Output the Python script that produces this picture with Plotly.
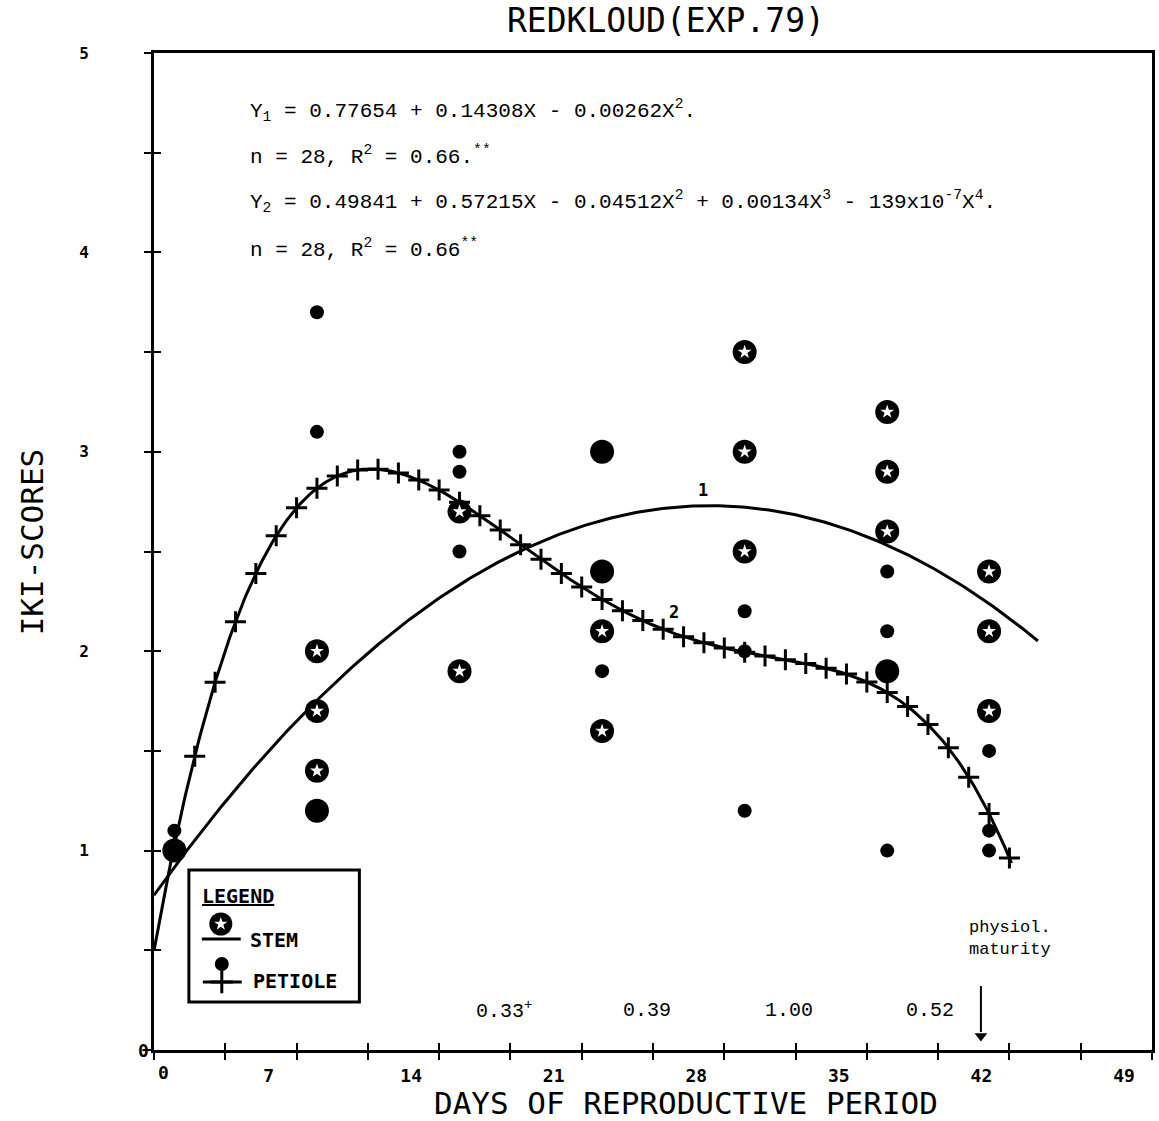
import numpy as np
import plotly.graph_objects as go

# ---------------------------------------------------------------- data
# IKI-scores of stem and petiole samples by day of the reproductive period
stem_days = [8, 8, 8, 15, 15, 22, 22, 29, 29, 29, 36, 36, 36, 41, 41, 41]
stem_scores = [2.0, 1.7, 1.4, 2.7, 1.9, 2.1, 1.6, 3.5, 3.0, 2.5, 3.2, 2.9, 2.6, 2.4, 2.1, 1.7]

petiole_days = [1, 8, 8, 15, 15, 15, 22, 29, 29, 29, 36, 36, 36, 41, 41, 41]
petiole_scores = [1.1, 3.7, 3.1, 3.0, 2.9, 2.5, 1.9, 2.2, 2.0, 1.2, 2.4, 2.1, 1.0, 1.5, 1.1, 1.0]

# points where stem and petiole scores coincide (drawn as large solid dots)
both_days = [1, 8, 22, 22, 36]
both_scores = [1.0, 1.2, 3.0, 2.4, 1.9]

# fitted regressions (coefficients in increasing power of X)
fit1_coef = [0.77654, 0.14308, -0.00262]
fit2_coef = [0.49841, 0.57215, -0.04512, 0.00134, -139e-7]
fit1_span = (0.0, 43.4)
fit2_span = (0.0, 42.1)
fit2_marker_days = list(range(1, 43))

# correlation coefficients between stem and petiole per interval
corr_days = [17.2, 24.2, 31.2, 38.1]
corr_labels = ["0.33<sup>+</sup>", "0.39", "1.00", "0.52"]
maturity_day = 40.6

# labelled ticks and the unlabelled half-steps between them
x_tick_vals = [7, 14, 21, 28, 35, 42, 49]
x_tick_text = ["7", "14", "21", "28", "35", "42", "49"]
x_minor_vals = [0, 3.5, 10.5, 17.5, 24.5, 31.5, 38.5, 45.5]
y_tick_vals = [1, 2, 3, 4, 5]
y_tick_text = ["1", "2", "3", "4", "5"]
y_minor_vals = [0, 0.5, 1.5, 2.5, 3.5, 4.5]

# ---------------------------------------------------------------- layout geometry
W, H = 1159, 1121
L, R, T, B = 154, 4, 53, 71
XMAX, YMAX = 49, 5
PX_PER_DAY = (W - L - R) / XMAX
PX_PER_UNIT = (H - T - B) / YMAX


def dx(px):
    """pixel column -> day value"""
    return (px - L) / PX_PER_DAY


def dy(py):
    """pixel row -> score value"""
    return (H - B - py) / PX_PER_UNIT


def paper_x(px):
    return (px - L) / (W - L - R)


def paper_y(py):
    return (H - B - py) / (H - T - B)


MONO = "DejaVu Sans Mono"
TYPE = "Liberation Mono"
BLACK = "black"

fig = go.Figure()

# fitted curves
x1 = np.linspace(*fit1_span, 300)
fig.add_trace(go.Scatter(x=x1, y=np.polynomial.polynomial.polyval(x1, fit1_coef),
                         mode="lines", line=dict(color=BLACK, width=3), name="Y1"))
x2 = np.linspace(*fit2_span, 400)
fig.add_trace(go.Scatter(x=x2, y=np.polynomial.polynomial.polyval(x2, fit2_coef),
                         mode="lines", line=dict(color=BLACK, width=3), name="Y2"))
xm = np.array(fit2_marker_days, dtype=float)
fig.add_trace(go.Scatter(x=xm, y=np.polynomial.polynomial.polyval(xm, fit2_coef),
                         mode="markers", name="Y2 days",
                         marker=dict(symbol="cross-thin", size=15,
                                     line=dict(color=BLACK, width=3))))

# stem: black disc with a white star
fig.add_trace(go.Scatter(x=stem_days, y=stem_scores, mode="markers", name="STEM",
                         marker=dict(symbol="circle", size=24, color=BLACK)))
fig.add_trace(go.Scatter(x=stem_days, y=stem_scores, mode="markers", name="STEM star",
                         marker=dict(symbol="star", size=10.5, color="white",
                                     line=dict(width=0))))
# petiole: small solid dot
fig.add_trace(go.Scatter(x=petiole_days, y=petiole_scores, mode="markers", name="PETIOLE",
                         marker=dict(symbol="circle", size=14, color=BLACK)))
fig.add_trace(go.Scatter(x=both_days, y=both_scores, mode="markers", name="STEM + PETIOLE",
                         marker=dict(symbol="circle", size=24, color=BLACK)))

# hand-made legend glyphs
fig.add_trace(go.Scatter(x=[dx(221)], y=[dy(924)], mode="markers", hoverinfo="skip",
                         marker=dict(symbol="circle", size=23, color=BLACK)))
fig.add_trace(go.Scatter(x=[dx(221)], y=[dy(924)], mode="markers", hoverinfo="skip",
                         marker=dict(symbol="star", size=10, color="white", line=dict(width=0))))
fig.add_trace(go.Scatter(x=[dx(222)], y=[dy(964)], mode="markers", hoverinfo="skip",
                         marker=dict(symbol="circle", size=14, color=BLACK)))
fig.add_trace(go.Scatter(x=[dx(222)], y=[dy(982)], mode="markers", hoverinfo="skip",
                         marker=dict(symbol="cross-thin", size=16, line=dict(color=BLACK, width=3))))

# empty trace that carries the inward half of the crossing ticks
fig.add_trace(go.Scatter(x=[], y=[], xaxis="x2", yaxis="y2", hoverinfo="skip"))

shapes = [
    dict(type="rect", xref="x", yref="y", x0=dx(189), x1=dx(360), y0=dy(1002), y1=dy(870),
         line=dict(color=BLACK, width=3)),
    dict(type="line", xref="x", yref="y", x0=dx(202), x1=dx(241), y0=dy(939), y1=dy(939),
         line=dict(color=BLACK, width=3)),
    dict(type="line", xref="x", yref="y", x0=dx(203), x1=dx(242), y0=dy(982), y1=dy(982),
         line=dict(color=BLACK, width=3)),
    # physiological maturity arrow shaft
    dict(type="line", xref="x", yref="y", x0=maturity_day, x1=maturity_day,
         y0=dy(986), y1=dy(1032), line=dict(color=BLACK, width=2)),
]

# arrow head of the maturity marker
fig.add_trace(go.Scatter(x=[maturity_day], y=[dy(1036)], mode="markers", hoverinfo="skip",
                         marker=dict(symbol="triangle-down", size=11, color=BLACK,
                                     line=dict(width=0))))

ann = []


def text(t, x, y, ref="paper", size=20, family=MONO, bold=False, xanchor="center", **kw):
    font = dict(family=family, size=size, color=BLACK)
    if bold:
        font["weight"] = "bold"
    d = dict(text=t, x=x, y=y, xref=ref if ref == "paper" else "x",
             yref=ref if ref == "paper" else "y", showarrow=False,
             xanchor=xanchor, yanchor="middle", font=font)
    d.update(kw)
    ann.append(d)


# title and axis titles
text("REDKLOUD(EXP.79)", paper_x(668), paper_y(21), size=33)
text("DAYS OF REPRODUCTIVE PERIOD", paper_x(688), paper_y(1103), size=31)
text("IKI-SCORES", paper_x(32), paper_y(542), size=31, textangle=-90)
# zero labels of both axes
text("0", 0, 0, ref="data", size=18, bold=True, xanchor="right", xshift=-3)
text("0", 0, 0, ref="data", size=18, bold=True, xshift=9, yshift=-22)

# regression equations
eq_lines = [
    ("Y<sub>1</sub> = 0.77654 + 0.14308X - 0.00262X<sup>2</sup>.", 110),
    ("n = 28, R<sup>2</sup> = 0.66.<sup>**</sup>", 155),
    ("Y<sub>2</sub> = 0.49841 + 0.57215X - 0.04512X<sup>2</sup> + 0.00134X<sup>3</sup>"
     " - 139x10<sup>-7</sup>X<sup>4</sup>.", 202),
    ("n = 28, R<sup>2</sup> = 0.66<sup>**</sup>", 248),
]
for t, py in eq_lines:
    text(t, paper_x(248), paper_y(py), size=21, family=TYPE, xanchor="left")

# curve numbers
text("1", dx(705), dy(490), ref="data", size=17, bold=True)
text("2", dx(676), dy(612), ref="data", size=17, bold=True)

# correlations per interval
for d, lab in zip(corr_days, corr_labels):
    text(lab, d, dy(1010), ref="data", size=20, family=TYPE)

# physiological maturity note
text("physiol.<br>maturity", dx(1013), dy(938), ref="data", size=17, family=TYPE, align="left")

# legend texts
text("<u>LEGEND</u>", dx(200), dy(896), ref="data", size=20, bold=True, xanchor="left")
text("STEM", dx(248), dy(940), ref="data", size=20, bold=True, xanchor="left")
text("PETIOLE", dx(251), dy(981), ref="data", size=20, bold=True, xanchor="left")

axis_common = dict(showgrid=False, zeroline=False, tickcolor=BLACK, tickwidth=2, ticklen=7)
minor_out = dict(ticks="outside", ticklen=7, tickwidth=2, tickcolor=BLACK, showgrid=False)
minor_in = dict(ticks="inside", ticklen=7, tickwidth=2, tickcolor=BLACK, showgrid=False)

fig.update_layout(
    width=W, height=H,
    margin=dict(l=L, r=R, t=T, b=B),
    plot_bgcolor="white", paper_bgcolor="white",
    showlegend=False,
    shapes=shapes,
    annotations=ann,
    xaxis=dict(range=[0, XMAX], tickvals=x_tick_vals, ticktext=x_tick_text, ticks="outside",
               minor=dict(tickvals=x_minor_vals, **minor_out),
               showline=True, linewidth=3, linecolor=BLACK, mirror=True,
               ticklabelshift=-28, ticklabelstandoff=0,
               tickfont=dict(family=MONO, size=18, color=BLACK, weight="bold"), **axis_common),
    yaxis=dict(range=[0, YMAX], tickvals=y_tick_vals, ticktext=y_tick_text, ticks="outside",
               minor=dict(tickvals=y_minor_vals, **minor_out),
               showline=True, linewidth=3, linecolor=BLACK, mirror=True,
               ticklabelstandoff=52,
               tickfont=dict(family=MONO, size=16, color=BLACK, weight="bold"), **axis_common),
    xaxis2=dict(range=[0, XMAX], tickvals=x_tick_vals, ticks="inside", overlaying="x",
                minor=dict(tickvals=x_minor_vals, **minor_in),
                anchor="y2", showticklabels=False, showline=False, **axis_common),
    yaxis2=dict(range=[0, YMAX], tickvals=y_tick_vals, ticks="inside", overlaying="y",
                minor=dict(tickvals=y_minor_vals, **minor_in),
                anchor="x2", side="left", showticklabels=False, showline=False, **axis_common),
)

fig.write_html("out.html")
